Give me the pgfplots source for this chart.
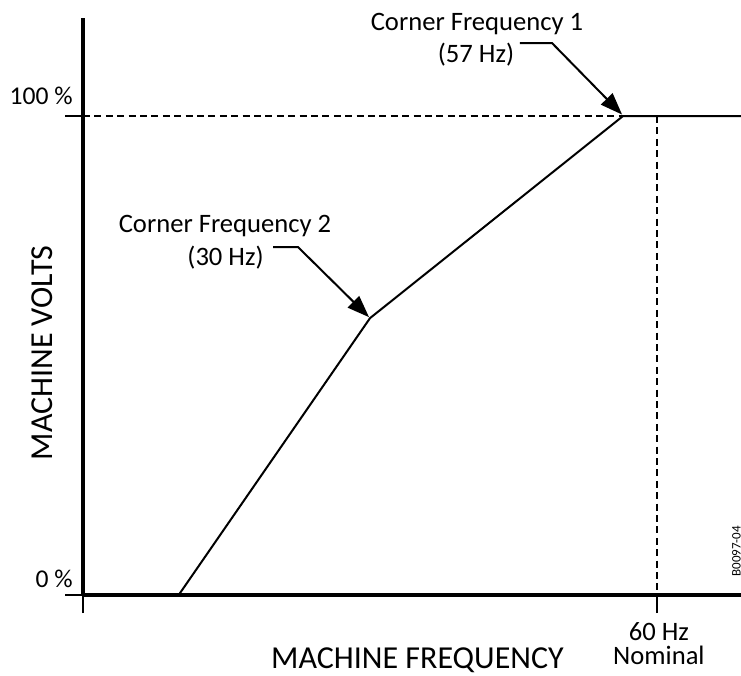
\documentclass[border=0pt]{standalone}
\usepackage{pgfplots}
\pgfplotsset{compat=1.18}
\usetikzlibrary{arrows.meta}
\usepackage{fontspec}
\setmainfont{Carlito}
\begin{document}
\begin{tikzpicture}
\begin{axis}[
  scale only axis, width=329pt, height=288.5pt,
  xmin=0, xmax=68.78, ymin=0, ymax=120.46,
  axis lines=left, axis line style={-, line width=1.6pt},
  clip=false,
  xtick={0,60}, ytick={0,100},
  xticklabels={}, yticklabels={},
  tick align=outside,
  major tick length=9pt,
  tick style={line width=0.8pt, black},
]
\addplot[black, line width=1pt] coordinates {(10,0) (30,57.8) (56.45,100) (68.78,100)};
\addplot[black, line width=0.8pt, dash pattern=on 3.5pt off 2.2pt] coordinates {(0,100) (56.45,100)};
\addplot[black, line width=0.8pt, dash pattern=on 3.5pt off 2.2pt] coordinates {(60,100) (60,0)};
\draw[black, line width=1pt, -{Triangle[length=11pt,width=8pt]}] (axis cs:45.66,115.24) -- (axis cs:49.02,115.24) -- (axis cs:56.35,100.3);
\draw[black, line width=1pt, -{Triangle[length=11pt,width=8pt]}] (axis cs:19.86,72.65) -- (axis cs:22.47,72.65) -- (axis cs:29.9,58.0);
\node[font=\fontsize{13.3}{16}\selectfont, anchor=base] at (axis cs:41.18,117.95) {Corner Frequency 1};
\node[font=\fontsize{13.3}{16}\selectfont, anchor=base] at (axis cs:41.08,111.27) {(57 Hz)};
\node[font=\fontsize{13.3}{16}\selectfont, anchor=base] at (axis cs:14.84,75.78) {Corner Frequency 2};
\node[font=\fontsize{13.3}{16}\selectfont, anchor=base] at (axis cs:14.90,68.89) {(30 Hz)};
\node[font=\fontsize{12.8}{14}\selectfont, anchor=base east, inner sep=0pt] at (axis cs:-1.045,102.3) {100 \%};
\node[font=\fontsize{12.8}{14}\selectfont, anchor=base east, inner sep=0pt] at (axis cs:-1.045,1.67) {0 \%};
\node[font=\fontsize{13.3}{12}\selectfont, align=center, anchor=center, inner sep=0pt] at (axis cs:60.2,-10.1) {60 Hz\\Nominal};
\node[font=\fontsize{16}{18}\selectfont, anchor=base, inner sep=0pt] at (axis cs:34.96,-15.24) {MACHINE FREQUENCY};
\node[font=\fontsize{16}{18}\selectfont, rotate=90, anchor=base, inner sep=0pt] at (axis cs:-3.24,50.52) {MACHINE VOLTS};
\node[font=\fontsize{6.5}{7}\selectfont, rotate=90, anchor=base west, inner sep=0pt] at (axis cs:68.73,3.76) {B0097-04};
\coordinate (BL) at (axis cs:-8.676,-16.70);
\coordinate (TR) at (axis cs:68.78,124.22);
\end{axis}
\pgfresetboundingbox
\path[use as bounding box] (BL) rectangle (TR);
\end{tikzpicture}
\end{document}
